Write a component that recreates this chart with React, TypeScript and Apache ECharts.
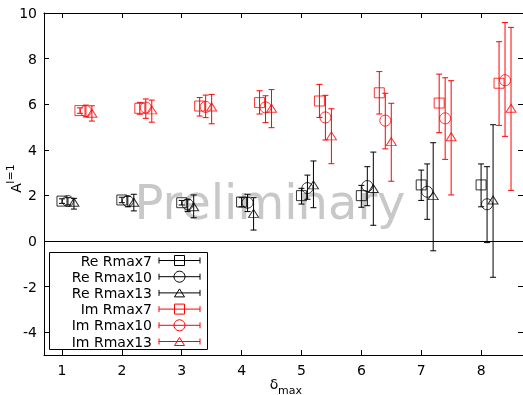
import React, { useEffect, useRef } from "react";
import * as echarts from "echarts";

const deltas = [1, 2, 3, 4, 5, 6, 7, 8];
const xTicks = [1, 2, 3, 4, 5, 6, 7, 8];
const yTicks = [-4, -2, 0, 2, 4, 6, 8, 10];

const seriesNames = ["Re Rmax7", "Re Rmax10", "Re Rmax13", "Im Rmax7", "Im Rmax10", "Im Rmax13"];
const xShift = [0, 0.1, 0.2, 0.3, 0.4, 0.5];

const reRmax7 = [1.75, 1.8, 1.68, 1.71, 1.99, 1.99, 2.46, 2.46];
const reRmax7Lo = [1.65, 1.68, 1.58, 1.5, 1.62, 1.48, 1.78, 1.5];
const reRmax7Hi = [1.85, 1.92, 1.78, 1.9, 2.31, 2.44, 3.11, 3.38];

const reRmax10 = [1.75, 1.75, 1.61, 1.68, 2.32, 2.41, 2.16, 1.61];
const reRmax10Lo = [1.58, 1.5, 1.29, 1.29, 1.83, 1.55, 0.95, -0.07];
const reRmax10Hi = [1.9, 1.96, 1.81, 2.05, 2.89, 3.26, 3.38, 3.26];

const reRmax13 = [1.7, 1.7, 1.5, 1.21, 2.46, 2.3, 1.99, 1.8];
const reRmax13Lo = [1.4, 1.32, 1.02, 0.48, 1.46, 0.69, -0.43, -1.59];
const reRmax13Hi = [1.87, 2.05, 2.02, 1.9, 3.51, 3.9, 4.31, 5.1];

const imRmax7 = [5.72, 5.82, 5.92, 6.07, 6.14, 6.5, 6.05, 6.92];
const imRmax7Lo = [5.6, 5.56, 5.48, 5.57, 5.42, 5.57, 4.75, 5.07];
const imRmax7Hi = [5.84, 6.08, 6.29, 6.59, 6.87, 7.43, 7.32, 8.74];

const imRmax10 = [5.7, 5.85, 5.88, 5.86, 5.42, 5.28, 5.38, 7.05];
const imRmax10Lo = [5.44, 5.38, 5.41, 5.19, 4.43, 4.04, 3.58, 4.59];
const imRmax10Hi = [5.96, 6.23, 6.4, 6.37, 6.39, 6.48, 7.16, 9.58];

const imRmax13 = [5.6, 5.75, 5.88, 5.82, 4.61, 4.36, 4.57, 5.82];
const imRmax13Lo = [5.26, 5.21, 5.14, 4.97, 3.39, 2.62, 2.02, 2.22];
const imRmax13Hi = [5.93, 6.18, 6.43, 6.64, 5.8, 6.04, 7.03, 9.37];

const values = [reRmax7, reRmax10, reRmax13, imRmax7, imRmax10, imRmax13];
const lows = [reRmax7Lo, reRmax10Lo, reRmax13Lo, imRmax7Lo, imRmax10Lo, imRmax13Lo];
const highs = [reRmax7Hi, reRmax10Hi, reRmax13Hi, imRmax7Hi, imRmax10Hi, imRmax13Hi];
const colors = ["#000000", "#000000", "#000000", "#ff0000", "#ff0000", "#ff0000"];
const symbols = ["rect", "circle", "triangle", "rect", "circle", "triangle"];
const symbolSizes: any[] = [[10, 10], 11, [10, 8], [10, 10], 11, [10, 8]];

const FONT = "DejaVu Sans";

function legendMarker(kind: string, cx: number, cy: number, color: string) {
  const style = { fill: "none", stroke: color, lineWidth: 1 };
  if (kind === "rect") return { type: "rect", shape: { x: cx - 5, y: cy - 5, width: 10, height: 10 }, style, z: 20 };
  if (kind === "circle") return { type: "circle", shape: { cx, cy, r: 5.5 }, style, z: 20 };
  return { type: "polygon", shape: { points: [[cx, cy - 4], [cx + 5, cy + 4], [cx - 5, cy + 4]] }, style, z: 20 };
}

export default function App() {
  const ref = useRef<HTMLDivElement>(null);
  useEffect(() => {
    if (!ref.current) return;
    const chart = echarts.init(ref.current, undefined, { renderer: "svg" });

    const series: any[] = [];
    seriesNames.forEach((name, s) => {
      const errData = deltas.map((d, i) => [d + xShift[s], lows[s][i], highs[s][i]]);
      series.push({
        type: "custom",
        name: name + " err",
        z: 3 + s,
        data: errData,
        renderItem: (params: any, api: any) => {
          const x = api.value(0);
          const pLo = api.coord([x, api.value(1)]);
          const pHi = api.coord([x, api.value(2)]);
          const st = { stroke: colors[s], lineWidth: 1 };
          return {
            type: "group",
            children: [
              { type: "line", shape: { x1: pLo[0], y1: pLo[1], x2: pHi[0], y2: pHi[1] }, style: st },
              { type: "line", shape: { x1: pLo[0] - 3, y1: pLo[1], x2: pLo[0] + 3, y2: pLo[1] }, style: st },
              { type: "line", shape: { x1: pHi[0] - 3, y1: pHi[1], x2: pHi[0] + 3, y2: pHi[1] }, style: st },
            ],
          };
        },
      });
      const sc: any = {
        type: "scatter",
        name,
        z: 3 + s,
        symbol: symbols[s],
        symbolSize: symbolSizes[s],
        itemStyle: { color: "rgba(0,0,0,0)", borderColor: colors[s], borderWidth: 1 },
        data: deltas.map((d, i) => [d + xShift[s], values[s][i]]),
      };
      if (s === 0) {
        sc.markLine = {
          silent: true,
          symbol: "none",
          label: { show: false },
          lineStyle: { color: "#000", width: 1, type: "solid" },
          data: [{ yAxis: 0 }],
        };
      }
      series.push(sc);
    });

    const legendGraphics: any[] = [
      {
        type: "rect",
        shape: { x: 49.5, y: 252.5, width: 158, height: 97 },
        style: { fill: "#fff", stroke: "#000", lineWidth: 1 },
        z: 15,
      },
    ];
    seriesNames.forEach((name, s) => {
      const y = 260.5 + s * 16.2;
      legendGraphics.push({
        type: "text",
        x: 152,
        y,
        z: 20,
        style: { text: name, fontFamily: FONT, fontSize: 14, fill: "#000", align: "right", verticalAlign: "middle" },
      });
      const st = { stroke: colors[s], lineWidth: 1 };
      legendGraphics.push({ type: "line", shape: { x1: 159, y1: y, x2: 200, y2: y }, style: st, z: 20 });
      legendGraphics.push({ type: "line", shape: { x1: 159, y1: y - 3, x2: 159, y2: y + 3 }, style: st, z: 20 });
      legendGraphics.push({ type: "line", shape: { x1: 200, y1: y - 3, x2: 200, y2: y + 3 }, style: st, z: 20 });
      legendGraphics.push(legendMarker(symbols[s], 179.5, y, colors[s]));
    });

    const axisCommon = {
      axisLine: { show: true, onZero: false, lineStyle: { color: "#000", width: 1 } },
      splitLine: { show: false },
    };

    chart.setOption({
      animation: false,
      grid: { left: 44, top: 13, width: 481, height: 342, containLabel: false },
      xAxis: [
        {
          type: "value",
          min: 0.7,
          max: 8.7,
          position: "bottom",
          ...axisCommon,
          axisTick: { show: true, inside: true, length: 5, customValues: xTicks, lineStyle: { color: "#000" } },
          axisLabel: { show: true, customValues: xTicks, margin: 8, color: "#000", fontFamily: FONT, fontSize: 14 },
        },
        {
          type: "value",
          min: 0.7,
          max: 8.7,
          position: "top",
          ...axisCommon,
          axisTick: { show: true, inside: true, length: 5, customValues: xTicks, lineStyle: { color: "#000" } },
          axisLabel: { show: false },
        },
      ],
      yAxis: [
        {
          type: "value",
          min: -5,
          max: 10,
          position: "left",
          ...axisCommon,
          axisTick: { show: true, inside: true, length: 5, customValues: yTicks, lineStyle: { color: "#000" } },
          axisLabel: { show: true, customValues: yTicks, margin: 7, color: "#000", fontFamily: FONT, fontSize: 14 },
        },
        {
          type: "value",
          min: -5,
          max: 10,
          position: "right",
          ...axisCommon,
          axisTick: { show: true, inside: true, length: 5, customValues: yTicks, lineStyle: { color: "#000" } },
          axisLabel: { show: false },
        },
      ],
      graphic: [
        {
          type: "text",
          x: 270,
          y: 178,
          z: 0,
          silent: true,
          style: {
            text: "Preliminary",
            fontFamily: FONT,
            fontSize: 48,
            fill: "#c8c8c8",
            align: "center",
            verticalAlign: "top",
          },
        },
        {
          type: "text",
          x: 16,
          y: 188,
          rotation: Math.PI / 2,
          style: { text: "A", fontFamily: FONT, fontSize: 14, fill: "#000", align: "center", verticalAlign: "middle" },
        },
        {
          type: "text",
          x: 10,
          y: 174,
          rotation: Math.PI / 2,
          style: { text: "l=1", fontFamily: FONT, fontSize: 11, fill: "#000", align: "center", verticalAlign: "middle" },
        },
        {
          type: "text",
          x: 274,
          y: 384,
          style: { text: "δ", fontFamily: FONT, fontSize: 14, fill: "#000", align: "center", verticalAlign: "middle" },
        },
        {
          type: "text",
          x: 290,
          y: 390,
          style: { text: "max", fontFamily: FONT, fontSize: 11, fill: "#000", align: "center", verticalAlign: "middle" },
        },
        ...legendGraphics,
      ],
      series,
    });
    return () => chart.dispose();
  }, []);
  return <div ref={ref} style={{ position: "fixed", left: 0, top: 0, width: 523, height: 395 }} />;
}
